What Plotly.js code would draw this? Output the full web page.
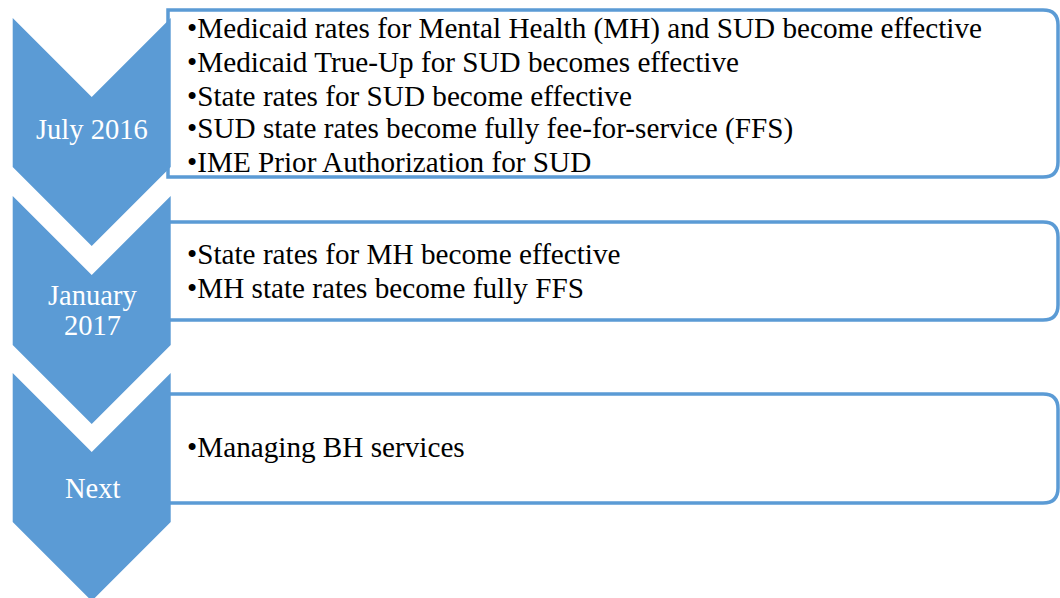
<!DOCTYPE html>
<html>
<head>
<meta charset="utf-8">
<script src="https://cdn.plot.ly/plotly-3.0.1.min.js"></script>
<style>
  html, body { margin: 0; padding: 0; background: #ffffff; }
  #chart { width: 1060px; height: 598px; }
</style>
</head>
<body>
<div id="chart"></div>
<script>
// ---- Data ----
const periods = ['July 2016', 'January 2017', 'Next'];
const periodLines = [['July 2016'], ['January', '2017'], ['Next']];
const milestonesJul2016 = [
  'Medicaid rates for Mental Health (MH) and SUD become effective',
  'Medicaid True-Up for SUD becomes effective',
  'State rates for SUD become effective',
  'SUD state rates become fully fee-for-service (FFS)',
  'IME Prior Authorization for SUD'
];
const milestonesJan2017 = [
  'State rates for MH become effective',
  'MH state rates become fully FFS'
];
const milestonesNext = [
  'Managing BH services'
];
const milestones = [milestonesJul2016, milestonesJan2017, milestonesNext];

// ---- Layout geometry (pixel space) ----
const W = 1060, H = 598;
const blue = '#5B9BD5';
const serif = '"Liberation Serif", "Times New Roman", serif';
const chevLeft = 12.7, chevRight = 170.7, chevMid = (chevLeft + chevRight) / 2;
const chevDepth = (chevRight - chevLeft) / 2;
const chevBody = 149;
const chevTops = [18, 196, 373];
const boxLeft = 168, boxRight = 1058, boxR = 15;
const boxTops = [10, 222, 394];
const boxBottoms = [177, 320, 503];
const textX = 185;
const textBaseline0 = [38, 263.3, 456];
const textGap = 33.3;
const labelBaseline0 = [138, 304, 497];
const labelGap = 30;
const fsText = 29.2;
const fsLabel = 28.5;

const shapes = [];
const annotations = [];

periods.forEach((p, i) => {
  const t = boxTops[i], b = boxBottoms[i];
  shapes.push({
    type: 'path', xref: 'x', yref: 'y', layer: 'above',
    path: `M ${boxLeft},${t} L ${boxRight - boxR},${t} Q ${boxRight},${t} ${boxRight},${t + boxR} ` +
          `L ${boxRight},${b - boxR} Q ${boxRight},${b} ${boxRight - boxR},${b} L ${boxLeft},${b} Z`,
    fillcolor: '#ffffff',
    line: { color: blue, width: 3.5 }
  });
});

periods.forEach((p, i) => {
  const t = chevTops[i];
  shapes.push({
    type: 'path', xref: 'x', yref: 'y', layer: 'above',
    path: `M ${chevLeft},${t} L ${chevMid},${t + chevDepth} L ${chevRight},${t} ` +
          `L ${chevRight},${t + chevBody} L ${chevMid},${t + chevBody + chevDepth} L ${chevLeft},${t + chevBody} Z`,
    fillcolor: blue,
    line: { width: 0 }
  });
  periodLines[i].forEach((ln, k) => {
    annotations.push({
      x: chevMid + 0.5, y: labelBaseline0[i] + k * labelGap - 0.31 * fsLabel,
      xref: 'x', yref: 'y', text: ln, showarrow: false,
      xanchor: 'center', yanchor: 'middle',
      font: { family: serif, size: fsLabel, color: '#ffffff' }
    });
  });
  milestones[i].forEach((s, k) => {
    annotations.push({
      x: textX, y: textBaseline0[i] + k * textGap - 0.31 * fsText, xref: 'x', yref: 'y',
      text: '\u2022' + s,
      showarrow: false, xanchor: 'left', yanchor: 'middle', align: 'left',
      font: { family: serif, size: fsText, color: '#000000' }
    });
  });
});

const layout = {
  width: W, height: H,
  margin: { l: 0, r: 0, t: 0, b: 0 },
  paper_bgcolor: '#ffffff', plot_bgcolor: '#ffffff',
  xaxis: { range: [0, W], visible: false, fixedrange: true },
  yaxis: { range: [H, 0], visible: false, fixedrange: true },
  showlegend: false,
  shapes: shapes,
  annotations: annotations
};

Plotly.newPlot('chart', [{ x: [], y: [], type: 'scatter', mode: 'markers' }], layout, { displayModeBar: false, staticPlot: true });
</script>
</body>
</html>
